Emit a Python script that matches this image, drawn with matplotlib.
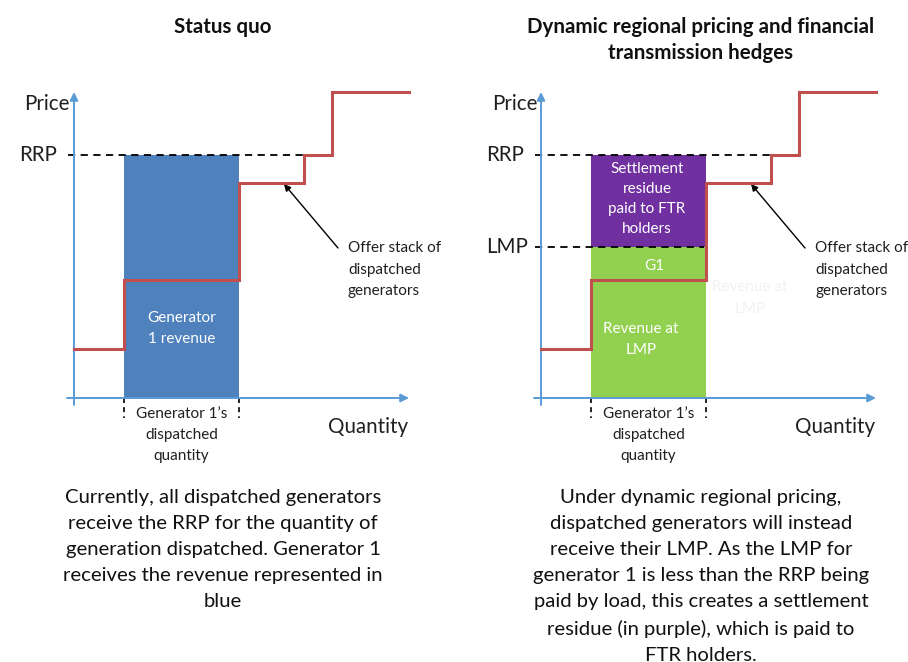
import numpy as np
import matplotlib as mpl
mpl.use('Agg')
import matplotlib.pyplot as plt

plt.rcParams['font.family'] = ['Lato', 'DejaVu Sans']

# offer stack (arbitrary quantity / price units)
stack_q = [0, 5, 16.5, 23, 25.8, 33.5]
stack_p = [4.9, 11.8, 21.5, 24.3, 30.6]
rrp = 24.3
lmp = 15.1
gen1_q = [5, 16.5]

titles = ['Status quo', 'Dynamic regional pricing and financial\ntransmission hedges']
notes = ['Currently, all dispatched generators\nreceive the RRP for the quantity of\n'
         'generation dispatched. Generator 1\nreceives the revenue represented in\nblue',
         'Under dynamic regional pricing,\ndispatched generators will instead\n'
         'receive their LMP. As the LMP for\ngenerator 1 is less than the RRP being\n'
         'paid by load, this creates a settlement\nresidue (in purple), which is paid to\nFTR holders.']

RED = '#C0504D'
AXBLUE = '#5B9BD5'
TXT = '#1f1f1f'
W, H = 908, 662
SMALL = 11
BIG = 14.8
LS_SMALL = 1.65

fig = plt.figure(figsize=(W / 100, H / 100), dpi=100)

def make_ax(x0_px):
    # axes spans 370 x 340 px, data origin 20 px from left, 22 px above bottom
    ax = fig.add_axes([(x0_px - 20) / W, (H - 420) / H, 370 / W, 340 / H])
    ax.set_xlim(-2.0, 35.0)
    ax.set_ylim(-2.2, 31.8)
    ax.axis('off')
    return ax

def draw_common(ax):
    # axes arrows
    ax.annotate('', xy=(33.5, 0), xytext=(-0.7, 0),
                arrowprops=dict(arrowstyle='-|>', color=AXBLUE, lw=1.4,
                                mutation_scale=12, shrinkA=0, shrinkB=0))
    ax.annotate('', xy=(0, 30.6), xytext=(0, -0.7),
                arrowprops=dict(arrowstyle='-|>', color=AXBLUE, lw=1.4,
                                mutation_scale=12, shrinkA=0, shrinkB=0))
    # offer stack
    xs = np.repeat(stack_q, 2)[1:-1]
    ys = np.repeat(stack_p, 2)
    ax.plot(xs, ys, color=RED, lw=2.2, solid_joinstyle='miter', zorder=5)
    # quantity brackets
    for q in gen1_q:
        ax.plot([q, q], [0, -2.0], color='black', lw=1.2, ls=(0, (3, 2.5)))
    ax.text(np.mean(gen1_q), -0.85, "Generator 1\u2019s\ndispatched\nquantity",
            ha='center', va='top', fontsize=SMALL, linespacing=LS_SMALL, color=TXT)
    ax.text(33.4, -2.9, 'Quantity', ha='right', va='center', fontsize=BIG,
            color=TXT, clip_on=False)
    ax.text(-0.4, 29.4, 'Price', ha='right', va='center', fontsize=BIG,
            color=TXT)
    ax.text(-1.7, rrp, 'RRP', ha='right', va='center', fontsize=BIG,
            color=TXT, clip_on=False)
    # arrow to stack
    ax.annotate('', xy=(21.0, 21.4), xytext=(26.4, 15.0),
                arrowprops=dict(arrowstyle='-|>', color='black', lw=1.0,
                                mutation_scale=10, shrinkA=0, shrinkB=0))
    ax.text(27.4, 15.65, 'Offer stack of\ndispatched\ngenerators', ha='left',
            va='top', fontsize=SMALL, linespacing=LS_SMALL, color=TXT,
            clip_on=False)

# left panel
ax1 = make_ax(74)
ax1.bar(gen1_q[0], rrp, width=gen1_q[1] - gen1_q[0], align='edge',
        color='#4F81BD', zorder=2)
ax1.plot([-0.6, 23], [rrp, rrp], color='black', lw=1.3, ls=(0, (4, 3)), zorder=3)
draw_common(ax1)
ax1.text(np.mean(gen1_q), 6.95, 'Generator\n1 revenue', ha='center', va='center',
         color='white', fontsize=SMALL, linespacing=LS_SMALL, zorder=6)

# right panel
ax2 = make_ax(541)
ax2.bar(gen1_q[0], lmp, width=gen1_q[1] - gen1_q[0], align='edge',
        color='#92D050', zorder=2)
ax2.bar(gen1_q[0], rrp - lmp, bottom=lmp, width=gen1_q[1] - gen1_q[0],
        align='edge', color='#7030A0', zorder=2)
ax2.plot([-0.6, 23], [rrp, rrp], color='black', lw=1.3, ls=(0, (4, 3)), zorder=3)
ax2.plot([-0.6, 16.3], [lmp, lmp], color='black', lw=1.3, ls=(0, (4, 3)), zorder=3)
draw_common(ax2)
ax2.text(-1.3, lmp, 'LMP', ha='right', va='center', fontsize=BIG,
         color=TXT, clip_on=False)
ax2.text(10.6, 19.9, 'Settlement\nresidue\npaid to FTR\nholders', ha='center',
         va='center', color='white', fontsize=SMALL, linespacing=1.55, zorder=6)
ax2.text(11.3, 13.2, 'G1', ha='center', va='center', color='white',
         fontsize=SMALL, zorder=6)
ax2.text(10.0, 5.85, 'Revenue at\nLMP', ha='center', va='center', color='white',
         fontsize=SMALL, linespacing=LS_SMALL, zorder=6)
ax2.text(20.9, 10.0, 'Revenue at\nLMP', ha='center', va='center',
         color='#f2f2f2', fontsize=SMALL, linespacing=LS_SMALL, zorder=6)

# titles and notes
for cx, t, n in [(223, titles[0], notes[0]), (701, titles[1], notes[1])]:
    fig.text(cx / W, 1 - 17 / H, t, ha='center', va='top', fontsize=14.8,
             fontweight='bold', linespacing=1.35, color='#111111')
    fig.text(cx / W, 1 - 489 / H, n, ha='center', va='top', fontsize=14.6,
             linespacing=1.64, color='#111111')

fig.savefig('out.png', dpi=100)
